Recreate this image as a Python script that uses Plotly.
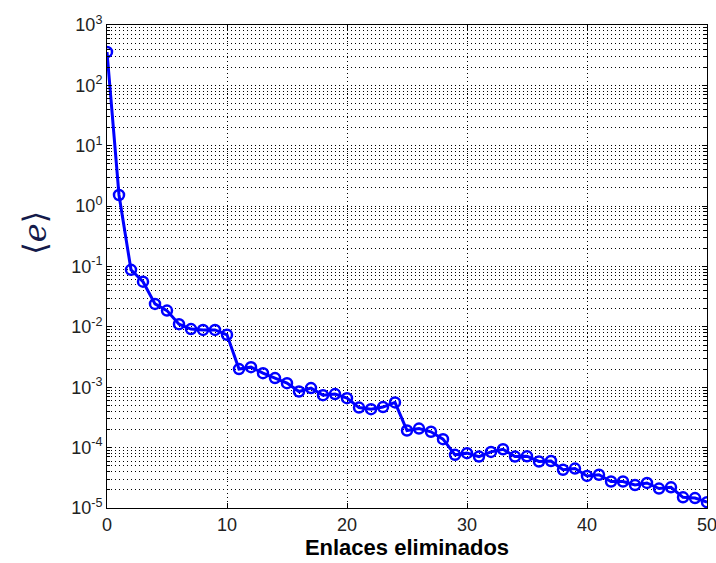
import plotly.graph_objects as go

# Enlaces eliminados (número de enlaces removidos)
enlaces = list(range(0, 51))

# Error medio <e> tras cada eliminación
error_medio = [
    357, 1.53, 0.088, 0.056, 0.024, 0.0186, 0.0111, 0.0092, 0.0089, 0.0089,
    0.0074, 0.0020, 0.00215, 0.00171, 0.00142, 0.00117, 0.00085, 0.00097, 0.00074, 0.00077,
    0.00066, 0.00046, 0.000434, 0.00047, 0.00056, 0.000192, 0.000207, 0.000183, 0.000138, 7.6e-5,
    8.1e-5, 7.1e-5, 8.5e-5, 9.4e-5, 7.1e-5, 7.2e-5, 5.9e-5, 6.0e-5, 4.3e-5, 4.5e-5,
    3.4e-5, 3.55e-5, 2.75e-5, 2.75e-5, 2.4e-5, 2.6e-5, 2.1e-5, 2.2e-5, 1.5e-5, 1.46e-5,
    1.25e-5,
]

x_ticks = [0, 10, 20, 30, 40, 50]
y_exponents = [-5, -4, -3, -2, -1, 0, 1, 2, 3]
y_ticks = [10.0 ** k for k in y_exponents]
y_ticktext = [f"10<sup>{k}</sup>" for k in y_exponents]

fig = go.Figure()
fig.add_trace(go.Scatter(
    x=enlaces,
    y=error_medio,
    mode="lines+markers",
    line=dict(color="#0000FF", width=3),
    marker=dict(symbol="circle-open", size=10, color="#0000FF",
                line=dict(color="#0000FF", width=2.5)),
    showlegend=False,
))

grid_dash = "1px,3px"
tick_font = dict(family="Liberation Sans, Arial, sans-serif", size=18, color="#222222")

fig.update_xaxes(
    range=[0, 50],
    tickvals=x_ticks,
    ticks="inside", ticklen=5, tickcolor="black",
    showline=True, linecolor="black", linewidth=1, mirror="ticks",
    showgrid=True, gridcolor="black", gridwidth=1, griddash=grid_dash,
    zeroline=False,
    tickfont=tick_font,
    ticklabeloverflow="allow",
    automargin=False,
    title=dict(text="<b>Enlaces eliminados</b>",
               font=dict(family="Liberation Sans, Arial, sans-serif", size=22, color="black"),
               standoff=4),
)

fig.update_yaxes(
    type="log",
    range=[-5, 3],
    tickvals=y_ticks,
    ticktext=y_ticktext,
    ticks="inside", ticklen=5, tickcolor="black",
    showline=True, linecolor="black", linewidth=1, mirror="ticks",
    showgrid=True, gridcolor="black", gridwidth=1, griddash=grid_dash,
    zeroline=False,
    tickfont=tick_font,
    ticklabeloverflow="allow",
    automargin=False,
    minor=dict(dtick="D1", ticks="inside", ticklen=3, tickcolor="black",
               showgrid=True, gridcolor="black", gridwidth=1, griddash=grid_dash),
)

fig.add_annotation(
    text="⟨<i>e</i>⟩",
    xref="paper", yref="paper",
    x=-0.12, y=0.57,
    xanchor="center", yanchor="middle",
    textangle=-90,
    showarrow=False,
    font=dict(family="DejaVu Serif, serif", size=32, color="#141a4a"),
)

fig.update_layout(
    width=716, height=563,
    margin=dict(l=107, r=9, t=25, b=55),
    plot_bgcolor="white",
    paper_bgcolor="white",
)

fig.write_html("out.html")
